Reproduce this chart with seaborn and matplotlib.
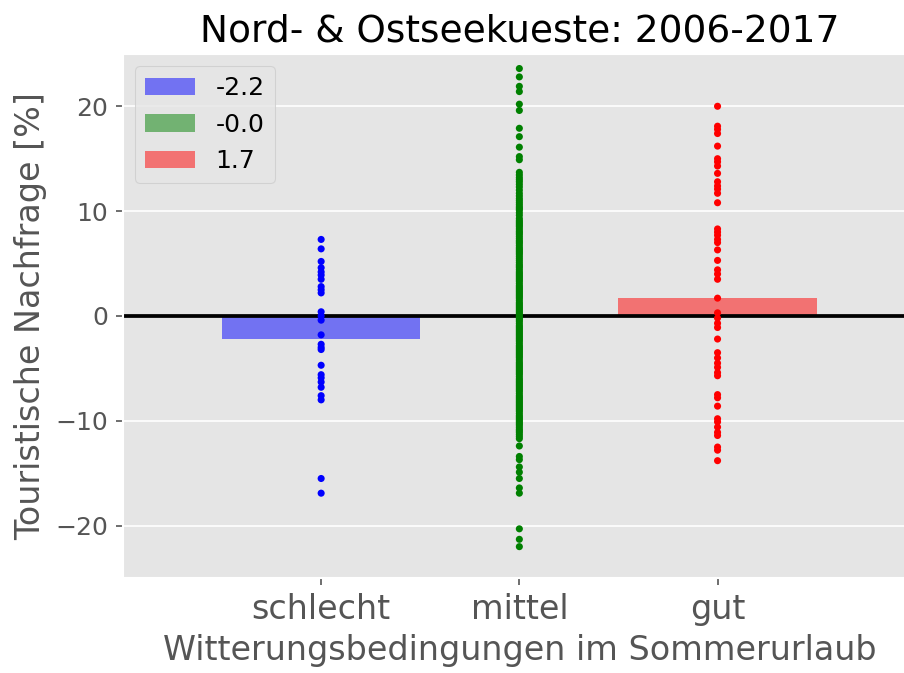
import numpy as np
import pandas as pd
import matplotlib
matplotlib.use('Agg')
import matplotlib.pyplot as plt
import seaborn as sns

# ── Data ──────────────────────────────────────────────────
categories = ['schlecht', 'mittel', 'gut']
bar_means = [-2.2, -0.02, 1.7]
colors = ['blue', 'green', 'red']

schlecht_vals = [7.3, 6.4, 5.2, 4.6, 4.2, 3.9, 3.5, 2.8, 2.5, 2.2, 0.4, 0.0,
                 -0.4, -1.8, -2.7, -3.0, -3.2, -4.7, -5.6, -5.9, -6.3, -6.8,
                 -7.6, -8.0, -15.5, -16.9]

mittel_vals = [23.6, 22.8, 21.9, 21.4, 20.2, 19.6, 17.9, 17.1, 16.1, 15.2, 14.9,
               13.7, 13.45, 13.2, 13.0, 12.8, 12.55, 12.3, 12.0, 11.7, 11.45,
               11.2, 11.0, 10.8, 10.6, 10.4, 10.25, 10.1, 9.85, 9.6, 9.3, 9.1,
               8.95, 8.8, 8.65, 8.5, 8.3, 8.1, 7.95, 7.8, 7.6, 7.4, 7.2, 7.05,
               6.9, 6.7, 6.5, 6.35, 6.2, 6.05, 5.9, 5.7, 5.5, 5.3, 5.1, 4.9,
               4.75, 4.6, 4.4, 4.2, 4.05, 3.9, 3.75, 3.6, 3.45, 3.3, 3.1, 2.9,
               2.75, 2.6, 2.45, 2.3, 2.15, 2.0, 1.85, 1.7, 1.5, 1.3, 1.15, 1.0,
               0.85, 0.7, 0.55, 0.4, 0.25, 0.1, -0.05, -0.2, -0.35, -0.5, -0.7,
               -0.9, -1.05, -1.2, -1.35, -1.5, -1.65, -1.8, -1.95, -2.1, -2.25,
               -2.4, -2.6, -2.8, -2.95, -3.1, -3.25, -3.4, -3.55, -3.7, -3.85,
               -4.0, -4.2, -4.4, -4.55, -4.7, -4.85, -5.0, -5.15, -5.3, -5.45,
               -5.6, -5.8, -6.0, -6.15, -6.3, -6.45, -6.6, -6.75, -6.9, -7.05,
               -7.2, -7.4, -7.6, -7.75, -7.9, -8.05, -8.2, -8.35, -8.5, -8.65,
               -8.8, -8.95, -9.1, -9.3, -9.5, -9.65, -9.8, -9.95, -10.1, -10.25,
               -10.4, -10.6, -10.8, -10.95, -11.1, -11.3, -11.5, -11.7, -12.4,
               -13.4, -13.7, -14.4, -14.9, -15.5, -16.4, -16.9, -20.3, -21.3,
               -22.0]

gut_vals = [20.0, 18.1, 17.8, 17.4, 16.2, 15.0, 14.7, 14.3, 13.6, 12.8, 12.4,
            12.1, 11.7, 10.8, 8.3, 8.0, 7.7, 7.3, 7.0, 6.3, 5.3, 4.4, 4.0, 3.5,
            1.7, 0.3, -0.2, -0.7, -1.1, -2.2, -3.5, -4.0, -4.5, -4.9, -5.4,
            -5.7, -7.5, -7.8, -8.6, -9.8, -10.1, -10.6, -11.1, -11.4, -12.5,
            -12.8, -13.8]

title = 'Nord- & Ostseekueste: 2006-2017'
xlabel = 'Witterungsbedingungen im Sommerurlaub'
ylabel = 'Touristische Nachfrage [%]'

# ── Frames ────────────────────────────────────────────────
df_bar = pd.DataFrame({'cat': categories, 'mean': bar_means,
                       'label': [f'{m:.1f}' for m in bar_means]})
df_pts = pd.DataFrame({
    'cat': ['schlecht'] * len(schlecht_vals) + ['mittel'] * len(mittel_vals)
           + ['gut'] * len(gut_vals),
    'val': schlecht_vals + mittel_vals + gut_vals,
})

# ── Plot ──────────────────────────────────────────────────
plt.style.use('ggplot')
fig = plt.figure(figsize=(904 / 150, 673 / 150), dpi=150)
ax = fig.add_axes([0.136, 0.141, 0.877, 0.779])

sns.barplot(data=df_bar, x='cat', y='mean', hue='label', palette=colors,
            alpha=0.5, width=1, errorbar=None, order=categories,
            saturation=1, ax=ax)
sns.stripplot(data=df_pts, x='cat', y='val', hue='cat', palette=colors,
              order=categories, jitter=False, size=3.4, linewidth=0,
              legend=False, ax=ax, zorder=3)
ax.axhline(0, color='black', lw=1.8, zorder=2.5)

ax.set_xlim(-1, 3)
ax.set_ylim(-25, 25)
ax.set_yticks([-20, -10, 0, 10, 20])
ax.tick_params(axis='x', labelsize=16)
ax.tick_params(axis='y', labelsize=12)
ax.set_xlabel(xlabel, fontsize=16)
ax.set_ylabel(ylabel, fontsize=16)
ax.set_title(title, fontsize=18)

handles = list(ax.patches)[:3]
ax.legend(handles, list(df_bar['label']), loc='upper left', fontsize=12)

fig.savefig('out.png', dpi=150)
